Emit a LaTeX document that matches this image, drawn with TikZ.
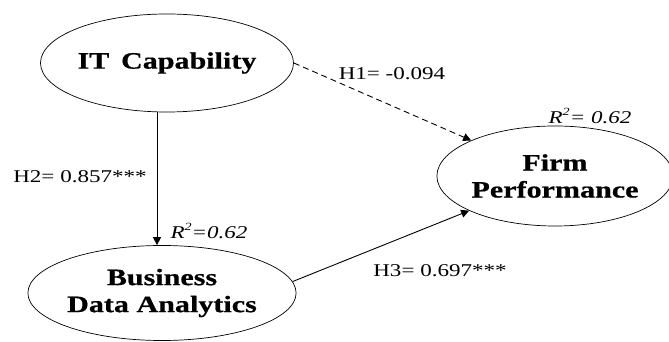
\documentclass[tikz,border=0pt]{standalone}
\usepackage{fontspec}
\setmainfont{Liberation Serif}[FakeStretch=1.28]
\newfontfamily\boldface{Liberation Serif Bold}[FakeStretch=1.28, FakeBold=0.6]
\newfontfamily\italface{Liberation Serif Italic}[FakeStretch=1.28]
\usepackage{tikz}
\usetikzlibrary{shapes.geometric}
\usetikzlibrary{arrows.meta}
\usetikzlibrary{positioning}

\begin{document}
\begin{tikzpicture}[x=1pt, y=1pt,
  construct/.style={draw, ellipse, line width=0.7pt, inner sep=0pt, align=center,
    font=\fontsize{23.5}{27}\boldface},
  lbl/.style={inner sep=0pt, font=\fontsize{18}{20}\selectfont},
  path/.style={line width=0.9pt, -{Triangle[length=8pt,width=8pt]}}]
\useasboundingbox (0,0) rectangle (669,342);

\node[construct, minimum width=230, minimum height=98] (it) at (167,279) {IT\enspace Capability};
\node[construct, minimum width=225, minimum height=100] (firm) at (555,166) {Firm\\Performance};
\node[construct, minimum width=229, minimum height=95] (bda) at (162,49) {Business\\Data Analytics};

\draw[path] ([xshift=-10]it.south) -- ([xshift=-10]it.south |- bda.north);
\draw[path, dash pattern=on 6pt off 4pt] (it.east) -- (firm.157);
\draw[path] (bda.5) -- (firm.202);

\node[lbl] (h1) at (392,268) {H1= -0.094};
\node[lbl] (h2) at (80,165) {H2= 0.857***};
\node[lbl] (h3) at (440,71) {H3= 0.697***};
\node[lbl] (r2firm) at (590,226) {\italface R\raisebox{0.4em}{\fontsize{11}{12}\selectfont 2}= 0.62};
\node[lbl] (r2bda) at (209,111) {\italface R\raisebox{0.4em}{\fontsize{11}{12}\selectfont 2}=0.62};
\end{tikzpicture}
\end{document}
